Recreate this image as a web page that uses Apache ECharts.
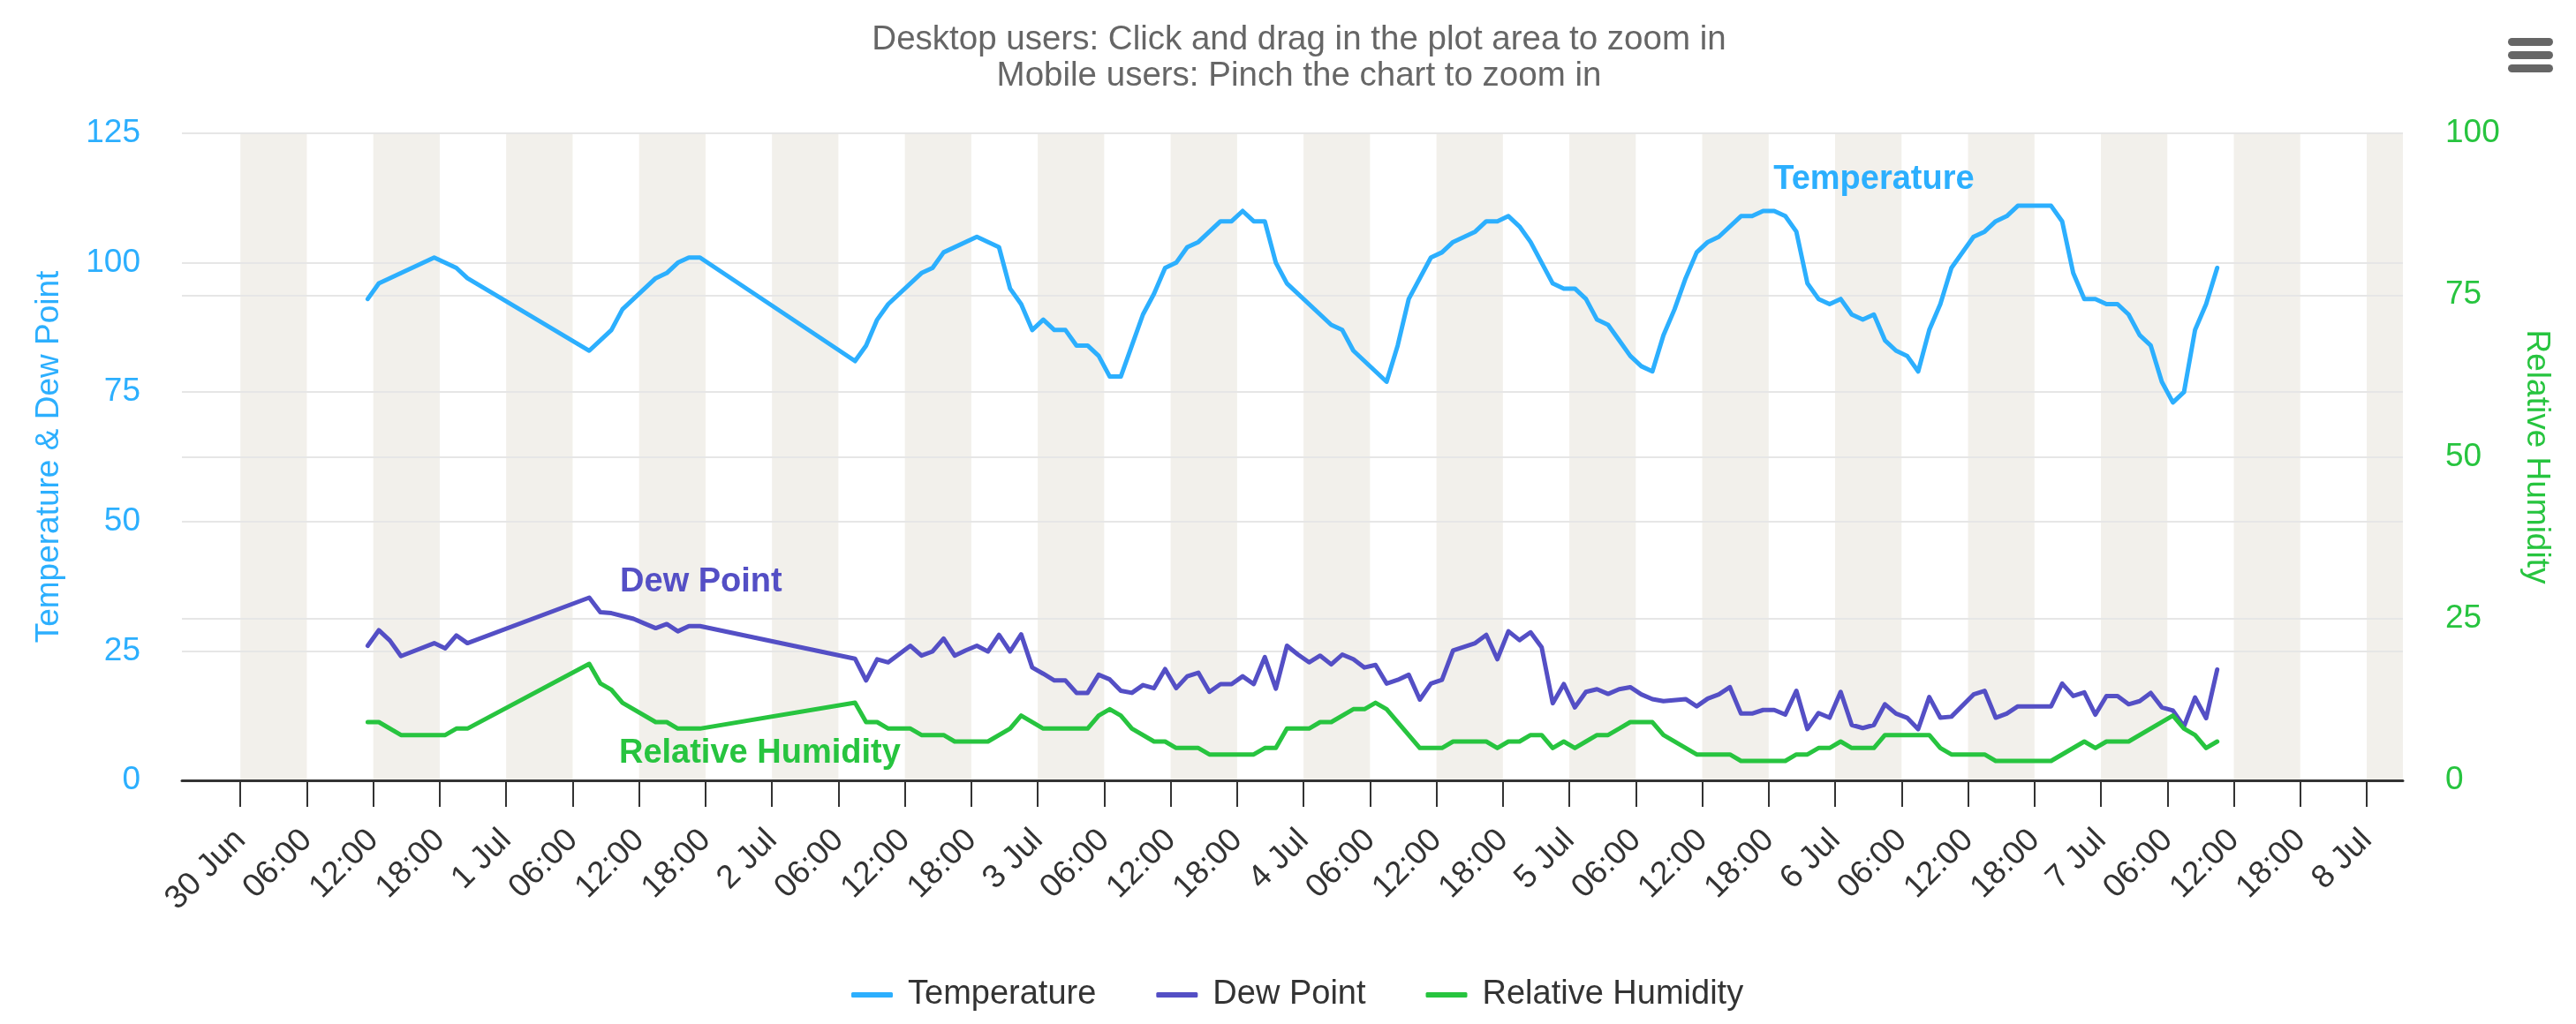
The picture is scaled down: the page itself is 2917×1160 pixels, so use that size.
<!DOCTYPE html>
<html>
<head>
<meta charset="utf-8">
<script src="https://cdn.jsdelivr.net/npm/echarts@6/dist/echarts.min.js"></script>
<style>
	html, body { margin: 0; padding: 0; background: #fff; }
	#weather_line { width: 2917px; height: 1160px; }
</style>
</head>
<body>
<div id="weather_line"></div>
<script type="text/javascript">
	// hours counted from 30 Jun 00:00
	var tempHours = [11.5, 12.5, 17.5, 19.5, 20.5, 31.5, 33.5, 34.5, 37.5, 38.5, 39.5, 40.5, 41.5,
		55.5, 56.5, 57.5, 58.5, 61.5, 62.5, 63.5, 66.5, 68.5, 69.5, 70.5, 71.5, 72.5, 73.5, 74.5, 75.5,
		76.5, 77.5, 78.5, 79.5, 80.5, 81.5, 82.5, 83.5, 84.5, 85.5, 86.5, 88.5, 89.5, 90.5, 91.5, 92.5,
		93.5, 94.5, 98.5, 99.5, 100.5, 103.5, 104.5, 105.5, 107.5, 108.5, 109.5, 111.5, 112.5, 113.5,
		114.5, 115.5, 116.5, 118.5, 119.5, 120.5, 121.5, 122.5, 123.5, 124.5, 125.5, 126.5, 127.5,
		128.5, 129.5, 130.5, 131.5, 132.5, 133.5, 135.5, 136.5, 137.5, 138.5, 139.5, 140.5, 141.5,
		142.5, 143.5, 144.5, 145.5, 146.5, 147.5, 148.5, 149.5, 150.5, 151.5, 152.5, 153.5, 154.5,
		156.5, 157.5, 158.5, 159.5, 160.5, 163.5, 164.5, 165.5, 166.5, 167.5, 168.5, 169.5, 170.5,
		171.5, 172.5, 173.5, 174.5, 175.5, 176.5, 177.5, 178.5];
	var tempValues = [93, 96, 101, 99, 97, 83, 87, 91, 97, 98, 100, 101, 101,
		81, 84, 89, 92, 98, 99, 102, 105, 103, 95, 92, 87, 89, 87, 87, 84,
		84, 82, 78, 78, 84, 90, 94, 99, 100, 103, 104, 108, 108, 110, 108, 108,
		100, 96, 88, 87, 83, 77, 84, 93, 101, 102, 104, 106, 108, 108,
		109, 107, 104, 96, 95, 95, 93, 89, 88, 85, 82, 80, 79,
		86, 91, 97, 102, 104, 105, 109, 109, 110, 110, 109, 106, 96,
		93, 92, 93, 90, 89, 90, 85, 83, 82, 79, 87, 92, 99,
		105, 106, 108, 109, 111, 111, 108, 98, 93, 93, 92, 92, 90,
		86, 84, 77, 73, 75, 87, 92, 99];

	var dewHours = [11.5, 12.5, 13.5, 14.5, 17.5, 18.5, 19.5, 20.5, 31.5, 32.5, 33.5, 35.5, 36.5,
		37.5, 38.5, 39.5, 40.5, 41.5, 55.5, 56.5, 57.5, 58.5, 60.5, 61.5, 62.5, 63.5, 64.5, 65.5,
		66.5, 67.5, 68.5, 69.5, 70.5, 71.5, 72.5, 73.5, 74.5, 75.5, 76.5, 77.5, 78.5, 79.5, 80.5,
		81.5, 82.5, 83.5, 84.5, 85.5, 86.5, 87.5, 88.5, 89.5, 90.5, 91.5, 92.5, 93.5, 94.5, 95.5,
		96.5, 97.5, 98.5, 99.5, 100.5, 101.5, 102.5, 103.5, 104.5, 105.5, 106.5, 107.5, 108.5,
		109.5, 111.5, 112.5, 113.5, 114.5, 115.5, 116.5, 117.5, 118.5, 119.5, 120.5, 121.5, 122.5,
		123.5, 124.5, 125.5, 126.5, 127.5, 128.5, 130.5, 131.5, 132.5, 133.5, 134.5, 135.5, 136.5,
		137.5, 138.5, 139.5, 140.5, 141.5, 142.5, 143.5, 144.5, 145.5, 146.5, 147.5, 148.5, 149.5,
		150.5, 151.5, 152.5, 153.5, 154.5, 156.5, 157.5, 158.5, 159.5, 160.5, 163.5, 164.5, 165.5,
		166.5, 167.5, 168.5, 169.5, 170.5, 171.5, 172.5, 173.5, 174.5, 175.5, 176.5, 177.5, 178.5];
	var dewValues = [26, 29, 27, 24, 26.5, 25.5, 28, 26.5, 35.3, 32.5, 32.3, 31.2, 30.3,
		29.4, 30.2, 28.8, 29.8, 29.8, 23.5, 19.3, 23.4, 22.8, 26, 24.1, 24.9, 27.4, 24.1, 25.1,
		26, 24.9, 28.1, 24.9, 28.2, 21.8, 20.6, 19.3, 19.3, 16.9, 16.9, 20.4, 19.5, 17.3, 16.9,
		18.4, 17.8, 21.5, 17.8, 20.1, 20.8, 17.1, 18.6, 18.6, 20.1, 18.6, 23.8, 17.7, 26, 24.3,
		22.8, 24.1, 22.4, 24.3, 23.4, 21.8, 22.3, 18.7, 19.4, 20.4, 15.6, 18.7, 19.4,
		25.1, 26.5, 28.1, 23.4, 28.8, 27.1, 28.6, 25.7, 14.9, 18.6, 14.1, 17.1, 17.6,
		16.7, 17.6, 18, 16.6, 15.7, 15.3, 15.7, 14.3, 15.8, 16.6, 18, 12.9, 12.9,
		13.6, 13.6, 12.7, 17.3, 9.9, 13, 12.1, 17.1, 10.7, 10.1, 10.7, 14.7, 12.9,
		12.1, 9.9, 16.1, 12.1, 12.3, 16.6, 17.3, 12.1, 12.9, 14.3, 14.3, 18.7, 16.3,
		17, 12.7, 16.3, 16.3, 14.7, 15.3, 16.9, 14.1, 13.5, 10.4, 16, 12, 21.4];

	var rhHours = [11.5, 12.5, 14.5, 18.5, 19.5, 20.5, 31.5, 32.5, 33.5, 34.5, 37.5, 38.5, 39.5, 41.5,
		55.5, 56.5, 57.5, 58.5, 60.5, 61.5, 63.5, 64.5, 67.5, 69.5, 70.5, 72.5, 76.5, 77.5, 78.5,
		79.5, 80.5, 82.5, 83.5, 84.5, 86.5, 87.5, 91.5, 92.5, 93.5, 94.5, 96.5, 97.5, 98.5, 100.5,
		101.5, 102.5, 103.5, 106.5, 108.5, 109.5, 112.5, 113.5, 114.5, 115.5, 116.5, 117.5, 118.5,
		119.5, 120.5, 121.5, 122.5, 123.5, 124.5, 125.5, 127.5, 128.5, 131.5, 134.5, 135.5, 139.5,
		140.5, 141.5, 142.5, 143.5, 144.5, 145.5, 147.5, 148.5, 152.5, 153.5, 154.5, 157.5, 158.5,
		163.5, 166.5, 167.5, 168.5, 170.5, 174.5, 175.5, 176.5, 177.5, 178.5];
	var rhValues = [9, 9, 7, 7, 8, 8, 18, 15, 14, 12, 9, 9, 8, 8,
		12, 9, 9, 8, 8, 7, 7, 6, 6, 8, 10, 8, 8, 10, 11,
		10, 8, 6, 6, 5, 5, 4, 4, 5, 5, 8, 8, 9, 9, 11,
		11, 12, 11, 5, 5, 6, 6, 5, 6, 6, 7, 7, 5,
		6, 5, 6, 7, 7, 8, 9, 9, 7, 4, 4, 3, 3,
		4, 4, 5, 5, 6, 5, 5, 7, 7, 5, 4, 4, 3,
		3, 6, 5, 6, 6, 10, 8, 7, 5, 6];

	var tickLabels = ['30 Jun', '06:00', '12:00', '18:00', '1 Jul', '06:00', '12:00', '18:00',
		'2 Jul', '06:00', '12:00', '18:00', '3 Jul', '06:00', '12:00', '18:00',
		'4 Jul', '06:00', '12:00', '18:00', '5 Jul', '06:00', '12:00', '18:00',
		'6 Jul', '06:00', '12:00', '18:00', '7 Jul', '06:00', '12:00', '18:00', '8 Jul'];

	function pairs(hours, values) {
		return hours.map(function (h, i) { return [h, values[i]]; });
	}

	var xMin = -5.28, xMax = 195.27;
	var tickValues = tickLabels.map(function (s, i) { return i * 6; });
	// shaded bands 00-06 and 12-18
	var bands = [];
	for (var i = 0; i < tickValues.length; i += 2) {
		bands.push([{ xAxis: tickValues[i] }, { xAxis: Math.min(tickValues[i] + 6, xMax) }]);
	}

	var FONT = "'Liberation Sans', Arial, Helvetica, sans-serif";
	var BLUE = '#2caffe', PURPLE = '#544fc5', GREEN = '#27c43f';

	function seriesLabel(coord, color) {
		return {
			symbol: 'circle',
			symbolSize: 0,
			silent: true,
			label: {
				show: true,
				position: 'inside',
				formatter: '{a}',
				color: color,
				fontFamily: FONT,
				fontWeight: 'bold',
				fontSize: 38
			},
			data: [{ coord: coord }]
		};
	}

	var option = {
		animation: false,
		backgroundColor: '#fff',
		color: [BLUE, PURPLE, GREEN],
		title: {
			text: 'Desktop users: Click and drag in the plot area to zoom in\nMobile users: Pinch the chart to zoom in',
			left: 1466,
			top: 20,
			textAlign: 'center',
			textStyle: {
				color: '#666666',
				fontFamily: FONT,
				fontWeight: 'normal',
				fontSize: 38.5,
				lineHeight: 41
			}
		},
		legend: {
			data: ['Temperature', 'Dew Point', 'Relative Humidity'],
			left: 959,
			top: 1103,
			icon: 'roundRect',
			itemWidth: 47,
			itemHeight: 6,
			itemGap: 68,
			textStyle: {
				color: '#333333',
				fontFamily: FONT,
				fontSize: 38,
				padding: [0, 0, 0, 12]
			}
		},
		graphic: [{
			type: 'group',
			right: 26,
			top: 43,
			children: [
				{ type: 'rect', shape: { x: 0, y: 0, width: 51, height: 9, r: 4.5 }, style: { fill: '#666666' } },
				{ type: 'rect', shape: { x: 0, y: 15, width: 51, height: 9, r: 4.5 }, style: { fill: '#666666' } },
				{ type: 'rect', shape: { x: 0, y: 30, width: 51, height: 9, r: 4.5 }, style: { fill: '#666666' } }
			]
		}],
		grid: {
			left: 206,
			right: 196,
			top: 151,
			bottom: 276
		},
		xAxis: {
			type: 'value',
			min: xMin,
			max: xMax,
			axisLine: { show: true, lineStyle: { color: '#333333', width: 3 } },
			axisTick: {
				show: true,
				customValues: tickValues,
				length: 30,
				lineStyle: { color: '#333333', width: 2 }
			},
			axisLabel: {
				customValues: tickValues,
				rotate: 45,
				margin: 62,
				color: '#333333',
				fontFamily: FONT,
				fontSize: 37,
				formatter: function (value) {
					return tickLabels[Math.round(value / 6)] || '';
				}
			},
			splitLine: { show: false }
		},
		yAxis: [{
			type: 'value',
			min: 0,
			max: 125,
			interval: 25,
			name: 'Temperature & Dew Point',
			nameLocation: 'middle',
			nameRotate: 90,
			nameGap: 132,
			nameTextStyle: { color: BLUE, fontFamily: FONT, fontSize: 37 },
			axisLine: { show: false },
			axisTick: { show: false },
			axisLabel: { color: BLUE, fontFamily: FONT, fontSize: 37, margin: 47 },
			splitLine: { lineStyle: { color: '#e6e6e6', width: 2 } }
		}, {
			type: 'value',
			min: 0,
			max: 100,
			interval: 25,
			position: 'right',
			name: 'Relative Humidity',
			nameLocation: 'middle',
			nameRotate: -90,
			nameGap: 133,
			nameTextStyle: { color: GREEN, fontFamily: FONT, fontSize: 37 },
			axisLine: { show: false },
			axisTick: { show: false },
			axisLabel: { color: GREEN, fontFamily: FONT, fontSize: 37, margin: 48 },
			splitLine: { lineStyle: { color: '#e6e6e6', width: 2 } }
		}],
		series: [{
			name: 'Temperature',
			type: 'line',
			yAxisIndex: 0,
			showSymbol: false,
			symbol: 'none',
			data: pairs(tempHours, tempValues),
			lineStyle: { width: 5, color: BLUE, cap: 'round', join: 'round' },
			markArea: {
				silent: true,
				z: -1,
				itemStyle: { color: '#f2f0eb' },
				data: bands
			},
			markPoint: seriesLabel([147.5, 116.1], BLUE)
		}, {
			name: 'Dew Point',
			type: 'line',
			yAxisIndex: 0,
			showSymbol: false,
			symbol: 'none',
			data: pairs(dewHours, dewValues),
			lineStyle: { width: 5, color: PURPLE, cap: 'round', join: 'round' },
			markPoint: seriesLabel([41.6, 38.2], PURPLE)
		}, {
			name: 'Relative Humidity',
			type: 'line',
			yAxisIndex: 1,
			showSymbol: false,
			symbol: 'none',
			data: pairs(rhHours, rhValues),
			lineStyle: { width: 5, color: GREEN, cap: 'round', join: 'round' },
			markPoint: seriesLabel([46.9, 4.2], GREEN)
		}]
	};

	var chart = echarts.init(document.getElementById('weather_line'));
	chart.setOption(option);
</script>
</body>
</html>
